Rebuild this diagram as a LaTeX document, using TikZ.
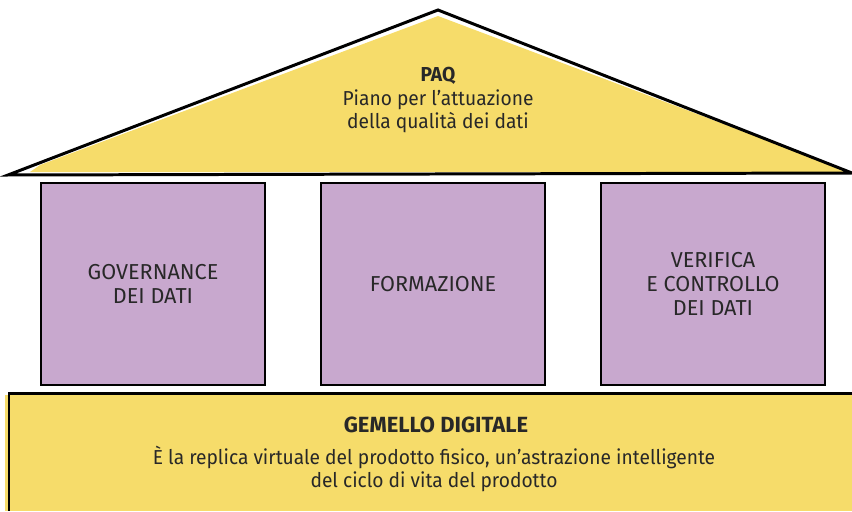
\documentclass[tikz,border=0pt]{standalone}
\usepackage{fontspec}
\setmainfont{Fira Sans}
\newfontfamily\narrowfont[FakeStretch=0.95]{Fira Sans}
\usetikzlibrary{positioning}

\definecolor{roofyellow}{RGB}{246,220,106}
\definecolor{pillarpurple}{RGB}{200,168,206}
\definecolor{inkgrey}{RGB}{40,40,40}

\tikzset{
    pillar/.style={draw, fill=pillarpurple, line width=1.4pt, minimum width=4.48cm,
        minimum height=4.04cm, inner sep=0pt, align=center, text=inkgrey,
        font=\fontsize{12.3}{13.7}\selectfont},
    narrowtext/.style={align=center, text=inkgrey, inner sep=0pt,
        font=\narrowfont\fontsize{11.5}{13.5}\selectfont}
}

\begin{document}
\begin{tikzpicture}[x=0.02cm, y=-0.02cm, line width=1.7pt]
    \useasboundingbox (0,0) rectangle (852,511);

    % Roof
    \coordinate (apex) at (438,10);
    \coordinate (eaveL) at (8,175);
    \coordinate (eaveR) at (852,173);
    \fill[roofyellow] (40,165) -- (438,16) -- (840,168) -- (845,172) -- (30,172) -- cycle;
    \draw (eaveL) -- (apex) -- (eaveR) -- cycle;
    \node[narrowtext] (paq) at (438,100) {\textbf{PAQ}\\Piano per l’attuazione\\della qualità dei dati};

    % Pillars
    \node[pillar] (governance) at (153,284) {GOVERNANCE\\DEI DATI};
    \node[pillar] (formazione) at (433,284) {FORMAZIONE};
    \node[pillar] (verifica) at (713,284) {VERIFICA\\E CONTROLLO\\DEI DATI};

    % Base
    \fill[roofyellow] (5,395) rectangle (852,511);
    \draw (852,393) -- (9,393) -- (9,511);
    \node[narrowtext, font=\fontsize{12.5}{14}\selectfont\bfseries] (gemello) at (436,425) {GEMELLO DIGITALE};
    \node[narrowtext] (replica) at (434,469) {È la replica virtuale del prodotto fisico, un’astrazione intelligente\\del ciclo di vita del prodotto};
\end{tikzpicture}
\end{document}
